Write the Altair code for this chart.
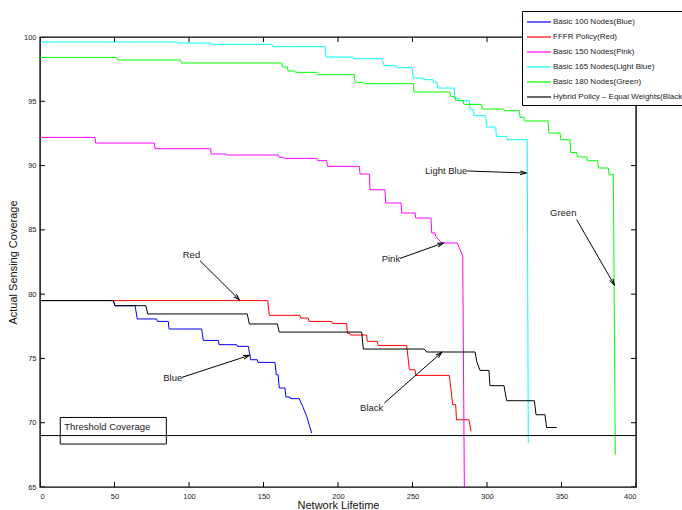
import altair as alt
import pandas as pd
import numpy as np

# ---------------- data ----------------
series_names = [
    "Basic 100 Nodes(Blue)",
    "FFFR Policy(Red)",
    "Basic 150 Nodes(Pink)",
    "Basic 165 Nodes(Light Blue)",
    "Basic 180 Nodes(Green)",
    "Hybrid Policy \u2013 Equal Weights(Black)",
]
series_colors = ["#0000ff", "#ff0000", "#ff00ff", "#00ffff", "#00ff00", "#000000"]

blue_x = [0, 49.2, 50.3, 63.8, 65.3, 78.3, 78.8, 86.1, 86.6, 108.5, 109.6, 119.7, 120.2, 132, 132.5,
          139.8, 141.4, 145.8, 146.3, 157.7, 158.6, 159.8, 160.6, 164.4, 165.0, 167.8, 168.2, 174.0,
          176.3, 179.0, 182.3]
blue_y = [79.5, 79.5, 79.1, 79.1, 78.07, 78.07, 77.88, 77.88, 77.29, 77.29, 76.4, 76.4, 76.07, 76.07, 75.94,
          75.94, 74.9, 74.9, 74.69, 74.69, 73.73, 73.73, 72.7, 72.7, 72.0, 72.0, 71.87, 71.87,
          71.27, 70.49, 69.2]

red_x = [0, 152.8, 153.9, 174.5, 175.0, 180.0, 180.5, 195.8, 196.3, 205.8, 206.3, 208.0, 208.4, 219.2,
         219.7, 226.4, 226.9, 246.1, 247.9, 251.7, 252.2, 274.7, 277.0, 279.0, 279.5, 287.9, 289.3]
red_y = [79.5, 79.5, 78.35, 78.35, 78.14, 78.14, 77.88, 77.88, 77.72, 77.72, 76.95, 76.95, 76.82, 76.82,
         76.33, 76.33, 76.01, 76.01, 74.12, 74.12, 73.68, 73.68, 71.4, 71.4, 70.23, 70.23, 69.33]

pink_x = [0, 36.9, 37.4, 76.7, 77.2, 114.5, 115.0, 125.3, 125.8, 160.0, 160.5, 163.3, 163.8, 185.7, 186.2,
          192.4, 192.9, 214.3, 214.8, 221.0, 221.5, 231.5, 232.0, 242.3, 242.8, 251.7, 252.2, 262.4,
          262.9, 265.1, 265.6, 269.6, 280.0, 283.7, 284.8]
pink_y = [92.19, 92.19, 91.75, 91.75, 91.31, 91.31, 90.9, 90.9, 90.82, 90.82, 90.64, 90.64, 90.56, 90.56,
          90.38, 90.38, 89.94, 89.94, 89.34, 89.34, 88.12, 88.12, 87.09, 87.09, 86.31, 86.31, 85.92,
          85.92, 84.76, 84.76, 84.49, 83.98, 83.98, 82.99, 65.0]

cyan_x = [0, 92.8, 93.3, 114.5, 115.0, 155.7, 156.2, 191.3, 192.0, 210.0, 210.5, 229.5, 231.0, 239.4,
          239.9, 249.7, 250.5, 257.0, 257.5, 263.8, 264.3, 266.4, 267.0, 277.9, 278.5, 280.8, 281.3,
          288.1, 288.7, 290.8, 291.3, 298.7, 299.3, 299.8, 305.8, 306.3, 313.2, 313.7, 327.0, 327.7]
cyan_y = [99.61, 99.61, 99.53, 99.53, 99.43, 99.43, 99.25, 99.25, 98.44, 98.44, 98.31, 98.31, 97.77, 97.77,
          97.61, 97.61, 96.81, 96.81, 96.68, 96.68, 96.47, 96.47, 96.03, 96.03, 95.22, 95.22, 95.05,
          95.05, 94.35, 94.35, 93.88, 93.88, 93.57, 93.0, 93.0, 92.27, 92.27, 92.01, 92.01, 68.42]

green_x = [0, 51.5, 52.0, 94.4, 94.9, 162.2, 162.7, 166.0, 166.5, 171.0, 171.5, 185.7, 186.2, 211.0,
           211.5, 217.0, 217.5, 250.5, 251.0, 275.2, 275.7, 278.5, 279.0, 284.0, 284.5, 296.4, 296.9,
           311.0, 311.5, 321.7, 322.2, 324.8, 325.3, 341.0, 341.5, 349.0, 349.5, 355.7, 356.2, 360.2,
           360.7, 367.0, 367.5, 374.3, 374.8, 381.4, 381.9, 384.8, 386.1]
green_y = [98.41, 98.41, 98.21, 98.21, 97.98, 97.98, 97.67, 97.67, 97.36, 97.36, 97.25, 97.25, 97.07, 97.07,
           96.47, 96.47, 96.37, 96.37, 95.72, 95.72, 95.38, 95.38, 95.07, 95.07, 94.76, 94.76, 94.40,
           94.40, 94.27, 94.27, 93.75, 93.75, 93.47, 93.47, 92.53, 92.53, 92.01, 92.01, 91.02, 91.02,
           90.67, 90.67, 90.38, 90.38, 89.81, 89.81, 89.29, 89.29, 67.51]

black_x = [0, 49.2, 50.3, 71.1, 72.3, 139.1, 140.5, 159.3, 160.6, 215.9, 217.0, 257.9, 259.5, 292.0,
           293.1, 295.3, 301.3, 302.0, 311.4, 313.2, 331.8, 332.9, 338.9, 340.0, 346.8]
black_y = [79.5, 79.5, 79.1, 79.1, 78.46, 78.46, 77.68, 77.68, 77.05, 77.05, 75.73, 75.73, 75.5, 75.5,
           74.77, 74.07, 74.07, 72.88, 72.88, 71.71, 71.71, 70.62, 70.62, 69.63, 69.63]

x_ticks = [0, 50, 100, 150, 200, 250, 300, 350, 400]
y_ticks = [65, 70, 75, 80, 85, 90, 95, 100]

threshold_value = 69.0
threshold_box_x = [13.6, 84.8]
threshold_box_y = [68.34, 70.41]
threshold_text = "Threshold Coverage"
threshold_text_pos = [16.3, 69.67]

label_texts = ["Red", "Blue", "Black", "Pink", "Light Blue", "Green"]
label_x = [95.8, 82.7, 214.8, 229.3, 258.4, 342.3]
label_y = [83.01, 73.48, 71.14, 82.73, 89.55, 86.31]
arrow_x1 = [107.4, 95.1, 231.1, 241.6, 286.8, 360.2]
arrow_y1 = [82.6, 73.52, 71.53, 82.78, 89.58, 85.79]
arrow_x2 = [133.8, 140.5, 269.6, 270.7, 326.2, 385.4]
arrow_y2 = [79.56, 75.24, 75.47, 83.98, 89.42, 80.73]

# ---------------- tables ----------------
all_x = [blue_x, red_x, pink_x, cyan_x, green_x, black_x]
all_y = [blue_y, red_y, pink_y, cyan_y, green_y, black_y]
rows = []
for name, xs, ys in zip(series_names, all_x, all_y):
    for i, (xv, yv) in enumerate(zip(xs, ys)):
        rows.append({"series": name, "x": xv, "y": yv, "idx": i})
df = pd.DataFrame(rows)

W, H = 596, 450
XD, YD = [0, 400], [65, 100]
sx = W / (XD[1] - XD[0])
sy = H / (YD[1] - YD[0])

arrows = pd.DataFrame({"x1": arrow_x1, "y1": arrow_y1, "x2": arrow_x2, "y2": arrow_y2})
dxp = (arrows["x2"] - arrows["x1"]) * sx
dyp = -(arrows["y2"] - arrows["y1"]) * sy
arrows["ang"] = np.degrees(np.arctan2(dxp, -dyp)) % 360

labels = pd.DataFrame({"t": label_texts, "x": label_x, "y": label_y})

FONT = "Liberation Sans"
xscale = alt.Scale(domain=XD, nice=False, zero=False)
yscale = alt.Scale(domain=YD, nice=False, zero=False)

x_axis = alt.Axis(values=x_ticks, title="Network Lifetime", tickSize=0, domain=False, grid=False,
                  labelFontSize=7.5, labelFont=FONT, labelColor="#222", labelPadding=5,
                  titleFont=FONT, titleFontSize=11, titleFontWeight="normal", titleColor="#111",
                  titlePadding=0)
y_axis = alt.Axis(values=y_ticks, title="Actual Sensing Coverage", tickSize=0, domain=False, grid=False,
                  labelFontSize=7.5, labelFont=FONT, labelColor="#222", labelPadding=4,
                  titleFont=FONT, titleFontSize=11, titleFontWeight="normal", titleColor="#111",
                  titlePadding=5)


def X(field):
    return alt.X(field, scale=xscale, axis=x_axis)


def Y(field):
    return alt.Y(field, scale=yscale, axis=y_axis)


lines = alt.Chart(df).mark_line(strokeWidth=1, clip=True).encode(
    x=X("x:Q"),
    y=Y("y:Q"),
    color=alt.Color("series:N", scale=alt.Scale(domain=series_names, range=series_colors),
                    legend=alt.Legend(orient="none", legendX=482, legendY=-26, title=None,
                                      strokeColor="black", fillColor="white", padding=4,
                                      labelFontSize=8, labelFont=FONT, labelColor="#222",
                                      symbolType="M-2,0H2", symbolSize=144, symbolStrokeWidth=1.2,
                                      symbolOffset=6, labelOffset=7,
                                      rowPadding=4, labelLimit=400, cornerRadius=0)),
    order="idx:Q",
)

thr = alt.Chart(pd.DataFrame({"x": [XD[0]], "x2": [XD[1]], "y": [threshold_value]})).mark_rule(
    color="black", strokeWidth=1).encode(x=X("x:Q"), x2="x2:Q", y=Y("y:Q"))

box = alt.Chart(pd.DataFrame({"x": [threshold_box_x[0]], "x2": [threshold_box_x[1]],
                              "y": [threshold_box_y[0]], "y2": [threshold_box_y[1]]})).mark_rect(
    filled=False, stroke="black", strokeWidth=1).encode(
    x=X("x:Q"), x2="x2:Q", y=Y("y:Q"), y2="y2:Q")

thr_text = alt.Chart(pd.DataFrame({"t": [threshold_text], "x": [threshold_text_pos[0]],
                                   "y": [threshold_text_pos[1]]})).mark_text(
    align="left", baseline="middle", font=FONT, fontSize=9.5, color="#222").encode(
    x=X("x:Q"), y=Y("y:Q"), text="t:N")

ann = alt.Chart(labels).mark_text(align="left", baseline="middle", font=FONT, fontSize=9.5,
                                  color="#222").encode(x=X("x:Q"), y=Y("y:Q"), text="t:N")

arrow_lines = alt.Chart(arrows).mark_rule(color="black", strokeWidth=1).encode(
    x=X("x1:Q"), y=Y("y1:Q"), x2="x2:Q", y2="y2:Q")

heads = alt.Chart(arrows).mark_point(shape="M-0.7,2.2L0,0L0.7,2.2", filled=False, stroke="black",
                                      strokeWidth=1, size=30, opacity=1).encode(
    x=X("x2:Q"), y=Y("y2:Q"), angle=alt.Angle("ang:Q", scale=None))

tick_df_x = pd.DataFrame({"x": x_ticks * 2, "y": [YD[0]] * len(x_ticks) + [YD[1]] * len(x_ticks)})
tick_df_y = pd.DataFrame({"y": y_ticks * 2, "x": [XD[0]] * len(y_ticks) + [XD[1]] * len(y_ticks)})
xt = alt.Chart(tick_df_x).mark_tick(orient="vertical", size=10, thickness=1, clip=True,
                                    color="black", opacity=1).encode(x=X("x:Q"), y=Y("y:Q"))
yt = alt.Chart(tick_df_y).mark_tick(orient="horizontal", size=10, thickness=1, clip=True,
                                    color="black", opacity=1).encode(x=X("x:Q"), y=Y("y:Q"))

chart = alt.layer(lines, xt, yt, thr, box, thr_text, arrow_lines, heads, ann).properties(
    width=W, height=H,
    padding={"left": 40, "top": 37, "right": 46, "bottom": 23},
    autosize=alt.AutoSizeParams(type="none"),
    background="white",
).configure_view(stroke="black", strokeWidth=1.4)

chart.save("out.html", embed_options={"renderer": "svg", "actions": False})
